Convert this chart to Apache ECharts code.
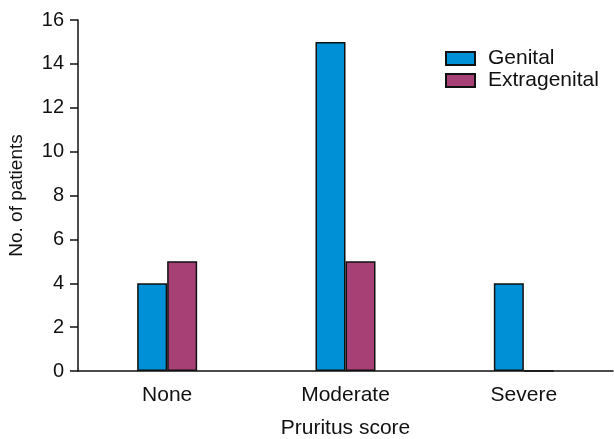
<!DOCTYPE html>
<html><head><meta charset="utf-8">
<script src="https://cdn.jsdelivr.net/npm/echarts@6/dist/echarts.min.js"></script>
<style>html,body{margin:0;padding:0;background:#fff}#c{width:614px;height:439px}</style>
</head><body><div id="c"></div>
<script>
const categories = ['None', 'Moderate', 'Severe'];
const genital = [4, 15, 4];
const extragenital = [5, 5, 0];
const yTicks = [0, 2, 4, 6, 8, 10, 12, 14, 16];

const font = '"Liberation Sans", Arial, sans-serif';
const chart = echarts.init(document.getElementById('c'));
chart.setOption({
  animation: false,
  backgroundColor: '#fff',
  textStyle: { fontFamily: font },
  legend: {
    left: 440, top: 43, orient: 'vertical', itemWidth: 29, itemHeight: 13, itemGap: 1,
    icon: 'rect',
    textStyle: { fontSize: 21, lineHeight: 21, color: '#111', fontFamily: font, padding: [0, 0, 0, 8] },
    data: ['Genital', 'Extragenital']
  },
  grid: { left: 78, right: 1, top: 20, bottom: 68, containLabel: false, outerBoundsMode: 'none' },
  xAxis: {
    type: 'category', data: categories,
    name: 'Pruritus score', nameLocation: 'middle', nameGap: 47,
    nameTextStyle: { fontSize: 21, color: '#111', fontFamily: font },
    axisLine: { lineStyle: { color: '#111', width: 1.5 } },
    axisTick: { length: 7, lineStyle: { color: '#111', width: 1.5 } },
    axisLabel: { fontSize: 21, color: '#111', margin: 14, fontFamily: font }
  },
  yAxis: {
    type: 'value', min: yTicks[0], max: yTicks[yTicks.length - 1], interval: 2,
    name: 'No. of patients', nameLocation: 'middle', nameGap: 52,
    nameTextStyle: { fontSize: 19, color: '#111', fontFamily: font },
    splitLine: { show: false },
    axisLine: { show: true, lineStyle: { color: '#111', width: 1.5 } },
    axisTick: { show: true, length: 8, lineStyle: { color: '#111', width: 1.5 } },
    axisLabel: { fontSize: 20, color: '#111', margin: 14, fontFamily: font }
  },
  series: [
    { name: 'Genital', type: 'bar', data: genital, barWidth: 30, barGap: '0%',
      itemStyle: { color: '#0090d5', borderColor: '#111', borderWidth: 1.5 } },
    { name: 'Extragenital', type: 'bar', data: extragenital, barWidth: 30,
      itemStyle: { color: '#a64075', borderColor: '#111', borderWidth: 1.5 } }
  ]
});
</script></body></html>
